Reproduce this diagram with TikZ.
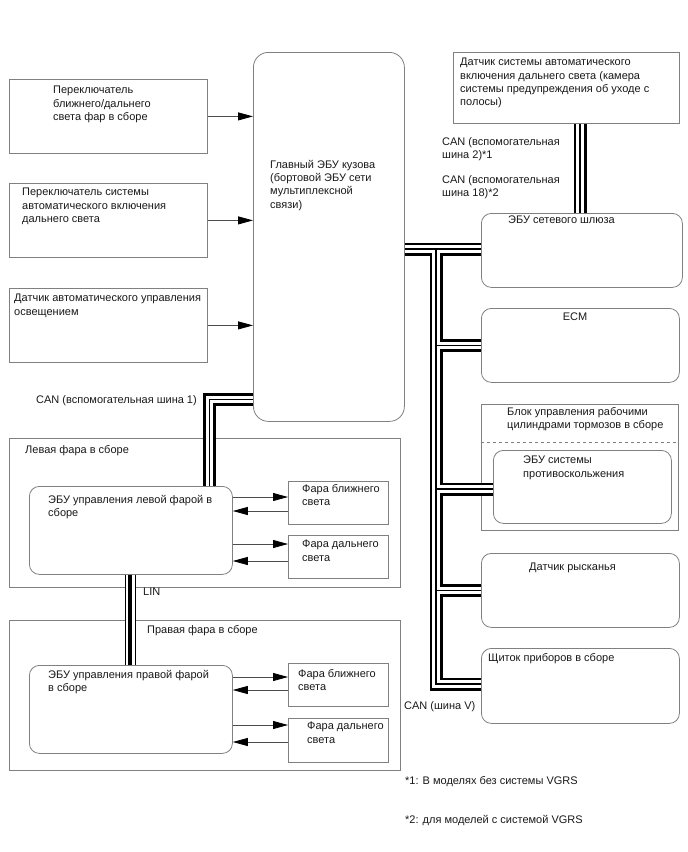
\documentclass[tikz,border=0pt]{standalone}
\usepackage{fontspec}
\setmainfont{Liberation Sans}
\usetikzlibrary{arrows.meta}

\tikzset{
  box/.style={draw=black!50, line width=0.8pt, anchor=north west, inner sep=0pt},
  rbox/.style={box, rounded corners=10pt},
  txt/.style={anchor=north west, inner sep=0pt, align=left,
    font=\fontsize{11}{13.3}\selectfont, text=black!90},
  sig/.style={draw=black!70, line width=0.8pt, -{Triangle[length=15pt,width=8pt,black]}},
  can/.style={line width=13pt, black, postaction={draw, white, line width=7.5pt},
    postaction={draw, black, line width=1.2pt}},
  lin/.style={line width=11pt, black, postaction={draw, white, line width=9pt},
    postaction={draw, black, line width=4pt}},
}

\begin{document}
\begin{tikzpicture}[x=1pt, y=-1pt]
    \fill[white] (0,0) rectangle (688,852);
    \useasboundingbox (0,0) rectangle (688,852);

    \node[box, minimum width=198pt, minimum height=74pt] (SW1) at (9,79) {};
    \node[box, minimum width=198pt, minimum height=74pt] (SW2) at (9,183) {};
    \node[box, minimum width=198pt, minimum height=74pt] (SW3) at (9,288) {};
    \node[rbox, rounded corners=15pt, minimum width=151pt, minimum height=369pt] (BCM) at (253,52) {};
    \node[txt] (SW1t) at (53,86) {Переключатель\\ближнего/дальнего\\света фар в сборе};
    \node[txt] (SW2t) at (22,188) {Переключатель системы\\автоматического включения\\дальнего света};
    \node[txt] (SW3t) at (14,294) {Датчик автоматического управления\\освещением};
    \node[txt] (BCMt) at (270,160) {Главный ЭБУ кузова\\(бортовой ЭБУ сети\\мультиплексной\\связи)};

    \draw[sig] (SW1.east) -- (SW1.east -| BCM.west);
    \draw[sig] (SW2.east) -- (SW2.east -| BCM.west);
    \draw[sig] (SW3.east) -- (SW3.east -| BCM.west);

    \node[box, minimum width=226pt, minimum height=71pt] (CAM) at (453,52) {};
    \node[txt] (CAMt) at (460,58) {Датчик системы автоматического\\включения дальнего света (камера\\системы предупреждения об уходе с\\полосы)};
    \node[txt] (CAN2) at (442,137) {CAN (вспомогательная\\шина 2)*1};
    \node[txt] (CAN18) at (442,175) {CAN (вспомогательная\\шина 18)*2};

    \node[rbox, minimum width=201pt, minimum height=74pt] (GW) at (481,213) {};
    \node[rbox, minimum width=198pt, minimum height=74pt] (ECM) at (481,308) {};
    \node[box, minimum width=197pt, minimum height=126pt] (BRK) at (481,404) {};
    \node[rbox, minimum width=178pt, minimum height=73pt] (ABS) at (493,450) {};
    \node[rbox, minimum width=198pt, minimum height=74pt] (YAW) at (481,553) {};
    \node[rbox, minimum width=198pt, minimum height=75pt] (IC) at (481,648) {};
    \draw[black!50, line width=0.8pt, dashed] (BRK.west |- 0,442) -- (BRK.east |- 0,442);
    \node[txt] (GWt) at (508,216) {ЭБУ сетевого шлюза};
    \node[txt, anchor=north] (ECMt) at (575,313) {ECM};
    \node[txt] (BRKt) at (507,407) {Блок управления рабочими\\цилиндрами тормозов в сборе};
    \node[txt] (ABSt) at (523,456) {ЭБУ системы\\противоскольжения};
    \node[txt] (YAWt) at (529,563) {Датчик рысканья};
    \node[txt] (ICt) at (488,653) {Щиток приборов в сборе};
    \node[txt] (CANV) at (404,701) {CAN (шина V)};
    \node[txt] (N1) at (405,776) {*1: В моделях без системы VGRS};
    \node[txt] (N2) at (405,815) {*2: для моделей с системой VGRS};

    \node[box, minimum width=391pt, minimum height=149pt] (LHL) at (9,438) {};
    \node[rbox, minimum width=203pt, minimum height=88pt] (LECU) at (29,486) {};
    \node[box, minimum width=100pt, minimum height=43pt] (LLO) at (288,481) {};
    \node[box, minimum width=100pt, minimum height=43pt] (LHI) at (288,535) {};
    \node[txt] (LHLt) at (25,445) {Левая фара в сборе};
    \node[txt] (LECUt) at (48,495) {ЭБУ управления левой фарой в\\сборе};
    \node[txt] (LLOt) at (302,484) {Фара ближнего\\света};
    \node[txt] (LHIt) at (302,540) {Фара дальнего\\света};
    \node[txt] (CAN1) at (36,395) {CAN (вспомогательная шина 1)};
    \node[txt] (LIN) at (143,588) {LIN};

    \node[box, minimum width=391pt, minimum height=150pt] (RHL) at (9,620) {};
    \node[rbox, minimum width=203pt, minimum height=88pt] (RECU) at (29,665) {};
    \node[box, minimum width=100pt, minimum height=43pt] (RLO) at (288,663) {};
    \node[box, minimum width=100pt, minimum height=44pt] (RHI) at (288,718) {};
    \node[txt] (RHLt) at (147,625) {Правая фара в сборе};
    \node[txt] (RECUt) at (48,670) {ЭБУ управления правой фарой\\в сборе};
    \node[txt] (RLOt) at (298,669) {Фара ближнего\\света};
    \node[txt] (RHIt) at (307,722) {Фара дальнего\\света};

    \draw[sig] (LECU.east |- 0,497) -- (LLO.west |- 0,497);
    \draw[sig] (LLO.west |- 0,511) -- (LECU.east |- 0,511);
    \draw[sig] (LECU.east |- 0,544) -- (LHI.west |- 0,544);
    \draw[sig] (LHI.west |- 0,561) -- (LECU.east |- 0,561);
    \draw[sig] (RECU.east |- 0,677) -- (RLO.west |- 0,677);
    \draw[sig] (RLO.west |- 0,690) -- (RECU.east |- 0,690);
    \draw[sig] (RECU.east |- 0,725) -- (RHI.west |- 0,725);
    \draw[sig] (RHI.west |- 0,742) -- (RECU.east |- 0,742);

    \coordinate (vtop) at (436,249);
    \coordinate (vbot) at (436,684);
    \coordinate (camx) at (580,0);
    \coordinate (c1) at (209.5,399.5);
    \coordinate (linx) at (130,0);

    \draw[can] (BCM.east |- vtop) -- (GW.west |- vtop)
      (vtop) -- (vbot) -- (IC.west |- vbot)
      (vtop |- ECM.west) -- (ECM.west)
      (vtop |- 0,489) -- (ABS.west |- 0,489)
      (vtop |- YAW.west) -- (YAW.west);
    \draw[can] (CAM.south -| camx) -- (GW.north -| camx);
    \draw[can] (BCM.west |- c1) -- (c1) -- (LECU.north -| c1);
    \draw[lin] (LECU.south -| linx) -- (RECU.north -| linx);
  \end{tikzpicture}
\end{document}
